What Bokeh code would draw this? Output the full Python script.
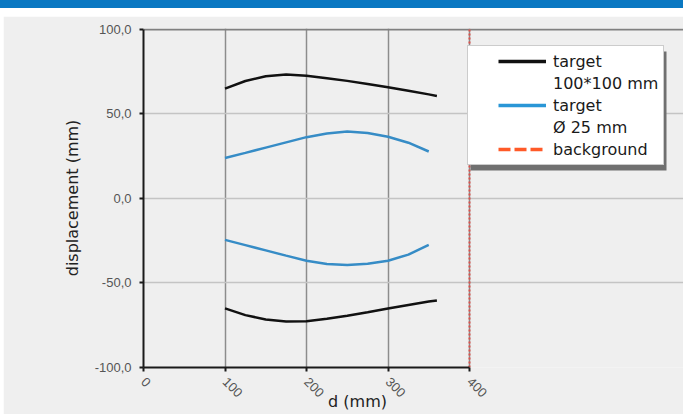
import math
from bokeh.plotting import figure
from bokeh.layouts import column, row
from bokeh.models import (FixedTicker, Legend, LegendItem, Range1d, Div, Grid, BoxAnnotation)
from bokeh.embed import file_html
from bokeh.resources import INLINE

# ---- data ----
d_black = [100, 125, 150, 175, 200, 225, 250, 275, 300, 325, 350, 360]
black_upper = [65.0, 69.5, 72.3, 73.3, 72.6, 71.2, 69.6, 67.8, 65.8, 63.7, 61.6, 60.7]
black_lower = [-65.0, -69.0, -71.6, -72.8, -72.6, -71.2, -69.4, -67.3, -65.1, -63.0, -61.0, -60.3]
d_blue = [100, 125, 150, 175, 200, 225, 250, 275, 300, 325, 350]
blue_upper = [24.0, 27.0, 30.1, 33.2, 36.3, 38.4, 39.6, 38.8, 36.5, 33.0, 27.8]
blue_lower = [-24.5, -27.6, -30.7, -33.8, -36.8, -38.7, -39.4, -38.6, -36.8, -33.2, -27.5]
d_background = [400, 400]
background = [-100, 100]

x_ticks = [0, 100, 200, 300, 400]
y_ticks = [-100, -50, 0, 50, 100]
y_tick_labels = ["-100,0", "-50,0", "0,0", "50,0", "100,0"]
legend_labels = ["target", "100*100 mm", "target", "\u00d8 25 mm", "background"]
x_title = "d (mm)"
y_title = "displacement (mm)"

# ---- layout (pixels) ----
PANEL = "#efefef"
W, H = 680, 398
LEFT, TOP, BOTTOM = 140, 12, 45
AXIS_PX_X = 326                    # pixels spanned by the 0..400 axis
AXIS_PX_Y = 340                    # pixels spanned by the -100..100 axis
x_lo, x_hi = x_ticks[0], x_ticks[-1]
y_lo, y_hi = y_ticks[0], y_ticks[-1]
x_view_end = x_lo + (x_hi - x_lo) * (W - LEFT) / AXIS_PX_X       # frame continues under the legend
y_view_end = y_lo + (y_hi - y_lo) * (H - TOP - BOTTOM) / AXIS_PX_Y  # 1px room for the top line

p = figure(width=W, height=H, output_backend="svg", toolbar_location=None,
           x_range=Range1d(x_lo, x_view_end), y_range=Range1d(y_lo, y_view_end),
           min_border_left=LEFT, min_border_right=0, min_border_top=TOP, min_border_bottom=BOTTOM,
           background_fill_color=PANEL, border_fill_color=PANEL, outline_line_color=None)

# grids
p.xgrid.ticker = FixedTicker(ticks=x_ticks[1:-1])
p.xgrid.bounds = (y_lo, y_hi)
p.xgrid.grid_line_color = "#8c8c8c"
p.xgrid.grid_line_width = 1.5
p.ygrid.ticker = FixedTicker(ticks=y_ticks[1:-1])
p.ygrid.bounds = (x_lo, x_hi)
p.ygrid.grid_line_color = "#c4c4c4"
p.ygrid.grid_line_width = 1.5
p.add_layout(Grid(dimension=1, ticker=FixedTicker(ticks=[y_hi]), bounds=(x_lo, x_hi),
                  grid_line_color="#808080", grid_line_width=1.8))
p.add_layout(Grid(dimension=0, ticker=FixedTicker(ticks=[x_hi]), bounds=(y_lo, y_hi),
                  grid_line_color="#8a8a8a", grid_line_width=1.5))

# axes
p.xaxis.ticker = FixedTicker(ticks=x_ticks)
p.xaxis.bounds = (x_lo, x_hi)
p.yaxis.ticker = FixedTicker(ticks=y_ticks)
p.yaxis.bounds = (y_lo, y_hi)
p.yaxis.major_label_overrides = dict(zip(y_ticks, y_tick_labels))
for ax in (p.xaxis[0], p.yaxis[0]):
    ax.axis_line_color = "#1a1a1a"
    ax.axis_line_width = 2
    ax.major_tick_line_color = "#1a1a1a"
    ax.major_tick_line_width = 2
    ax.major_tick_out = 4
    ax.major_tick_in = 0
    ax.minor_tick_line_color = None
    ax.major_label_text_font = "Liberation Sans"
    ax.major_label_text_font_size = "13px"
    ax.major_label_text_color = "#555555"
    ax.major_label_standoff = 8
p.xaxis.major_label_orientation = -math.pi / 4
p.yaxis.axis_label = y_title
p.yaxis.axis_label_standoff = 10
# trailing no-break spaces shift the centred title left, under the 0..400 axis
p.xaxis.axis_label = x_title + "\u00a0" * 22
p.xaxis.axis_label_standoff = -12
for ax in (p.xaxis[0], p.yaxis[0]):
    ax.axis_label_text_font = "DejaVu Sans"
    ax.axis_label_text_font_size = "16px"
    ax.axis_label_text_font_style = "normal"
    ax.axis_label_text_color = "#222222"

# series
BLACK = "#111111"
BLUE = "#368cc6"
p.line(d_black, black_upper, line_color=BLACK, line_width=2.5)
p.line(d_black, black_lower, line_color=BLACK, line_width=2.5)
p.line(d_blue, blue_upper, line_color=BLUE, line_width=2.5)
p.line(d_blue, blue_lower, line_color=BLUE, line_width=2.5)
p.line(d_background, background, line_color="#e0504a", line_width=2, line_dash="2 2")

# legend samples (hidden renderers with the same data, styled like the legend keys)
r_blank = p.line(d_black, black_upper, line_alpha=0)
r_leg_black = p.line(d_black, black_upper, line_color=BLACK, line_width=3.5, visible=False)
r_leg_blue = p.line(d_blue, blue_upper, line_color="#2a96d6", line_width=3.5, visible=False)
r_leg_bg = p.line(d_background, background, line_color="#ff5a28", line_width=3.5,
                  line_dash="12 4", visible=False)

# legend shadow
p.add_layout(BoxAnnotation(left=467, right=663, top=35, bottom=154,
                           left_units="canvas", right_units="canvas",
                           top_units="canvas", bottom_units="canvas",
                           fill_color="#707070", fill_alpha=1, line_color=None))

legend = Legend(items=[
    LegendItem(label=legend_labels[0], renderers=[r_leg_black]),
    LegendItem(label=legend_labels[1], renderers=[r_blank]),
    LegendItem(label=legend_labels[2], renderers=[r_leg_blue]),
    LegendItem(label=legend_labels[3], renderers=[r_blank]),
    LegendItem(label=legend_labels[4], renderers=[r_leg_bg]),
], location=(324, 202), padding=5, margin=0,
    title="\u00a0", title_location="left", title_text_font_size="12px", title_standoff=11,
    border_line_color="#9a9a9a", border_line_width=1,
    background_fill_color="white", background_fill_alpha=1,
    inactive_fill_alpha=0,
    glyph_width=48, glyph_height=20, label_height=20, label_standoff=7, spacing=2,
    label_text_font="DejaVu Sans", label_text_font_size="16px", label_text_color="#1a1a1a")
p.add_layout(legend)

top_bar = Div(width=683, height=8, margin=0, styles={"background-color": "#0a78c2"})
gap = Div(width=683, height=8, margin=0, styles={"background-color": "white"})
left_strip = Div(width=3, height=H, margin=0, styles={"background-color": "white"})
page = column(top_bar, gap, row(left_strip, p, spacing=0), spacing=0)

open("out.html", "w").write(file_html(page, INLINE))
